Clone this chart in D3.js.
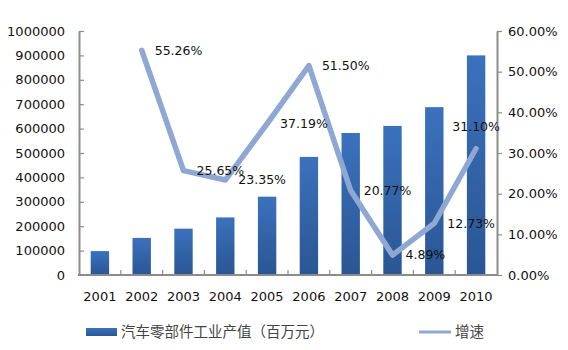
<!DOCTYPE html>
<html><head><meta charset="utf-8">
<script src="https://cdn.jsdelivr.net/npm/d3@7/dist/d3.min.js"></script>
<style>body{margin:0;background:#fff}svg{display:block}</style>
</head><body>
<script>
const years = ["2001","2002","2003","2004","2005","2006","2007","2008","2009","2010"];
const outputValues = [98000,152000,190000,236000,321000,484000,582000,611000,688000,900000];
const growthYears = ["2002","2003","2004","2005","2006","2007","2008","2009","2010"];
const growthRates = [55.26,25.65,23.35,37.19,51.50,20.77,4.89,12.73,31.10];
const leftTicks = [0,100000,200000,300000,400000,500000,600000,700000,800000,900000,1000000];
const rightTicks = [0,10,20,30,40,50,60];
const barLabel = "汽车零部件工业产值（百万元）";
const lineLabel = "增速";

const W=568,H=350;
const m={left:79,right:71,top:31,bottom:75};
const svg=d3.select("body").append("svg").attr("width",W).attr("height",H);
const defs=svg.append("defs");
["barGrad","legGrad"].forEach(id=>{
  const g=defs.append("linearGradient").attr("id",id).attr("x1",0).attr("y1",0).attr("x2",0).attr("y2",1);
  g.append("stop").attr("offset","0%").attr("stop-color","#3b71bd");
  g.append("stop").attr("offset","100%").attr("stop-color","#2a5693");
});

const x=d3.scaleBand().domain(years).range([m.left,W-m.right]).paddingInner(0.56).paddingOuter(0.28);
const yL=d3.scaleLinear().domain([0,1000000]).range([H-m.bottom,m.top]);
const yR=d3.scaleLinear().domain([0,60]).range([H-m.bottom,m.top]);
const cx=d=>x(d)+x.bandwidth()/2;

// bars
svg.append("g").selectAll("rect").data(years).join("rect")
 .attr("x",d=>x(d)).attr("width",x.bandwidth())
 .attr("y",(d,i)=>yL(outputValues[i])).attr("height",(d,i)=>yL(0)-yL(outputValues[i]))
 .attr("fill","url(#barGrad)");

const font="'DejaVu Sans', Verdana, sans-serif";
// left axis
const la=svg.append("g").attr("transform",`translate(${m.left},0)`)
 .call(d3.axisLeft(yL).tickValues(leftTicks).tickFormat(d3.format("d")).tickSizeInner(-5).tickSizeOuter(0).tickPadding(14));
la.select(".domain").attr("stroke","#8c8c8c").attr("stroke-width",2);
la.selectAll(".tick line").attr("stroke","#8c8c8c").attr("stroke-width",1.2);
la.selectAll("text").attr("font-family",font).attr("font-size",13).attr("fill","#111");
// right axis
const ra=svg.append("g").attr("transform",`translate(${W-m.right},0)`)
 .call(d3.axisRight(yR).tickValues(rightTicks).tickFormat(d=>d.toFixed(2)+"%").tickSizeInner(5).tickSizeOuter(0).tickPadding(6));
ra.select(".domain").attr("stroke","#8c8c8c").attr("stroke-width",2);
ra.selectAll(".tick line").attr("stroke","#8c8c8c").attr("stroke-width",1.2);
ra.selectAll("text").attr("font-family",font).attr("font-size",13).attr("fill","#111");
// x axis
const xa=svg.append("g").attr("transform",`translate(0,${H-m.bottom})`)
 .call(d3.axisBottom(x).tickSize(0).tickPadding(17));
xa.select(".domain").attr("stroke","#8c8c8c").attr("stroke-width",2).attr("d",`M${m.left-1},0H${W-m.right+1}`);
xa.selectAll("text").attr("font-family",font).attr("font-size",13).attr("fill","#111");
const step=x.step();
svg.append("g").selectAll("line").data(years.slice(1)).join("line")
 .attr("x1",d=>x(d)-x.paddingInner()*step/2).attr("x2",d=>x(d)-x.paddingInner()*step/2)
 .attr("y1",H-m.bottom).attr("y2",H-m.bottom-5).attr("stroke","#8c8c8c").attr("stroke-width",1.2);

// line
const line=d3.line().x(d=>cx(d[0])).y(d=>yR(d[1]));
const pts=growthYears.map((d,i)=>[d,growthRates[i]]);
svg.append("path").datum(pts).attr("d",line).attr("fill","none")
 .attr("stroke","#8fa7d3").attr("stroke-width",5.5).attr("stroke-linejoin","round").attr("stroke-linecap","round");
const last=pts.length-1;
svg.append("g").selectAll("text").data(pts).join("text")
 .attr("x",(d,i)=>i===last?cx(d[0]):cx(d[0])+13)
 .attr("y",(d,i)=>i===last?yR(d[1])-22:yR(d[1])).attr("dy","0.35em")
 .attr("text-anchor",(d,i)=>i===last?"middle":"start")
 .attr("font-family",font).attr("font-size",12.5).attr("fill","#111")
 .text(d=>d[1].toFixed(2)+"%");

// legend
svg.append("rect").attr("x",86).attr("y",328).attr("width",31).attr("height",8).attr("fill","url(#legGrad)");
svg.append("text").attr("x",121).attr("y",332).attr("dy","0.35em").attr("font-family","'Noto Sans CJK SC', sans-serif")
 .attr("font-size",14.5).attr("fill","#444").text(barLabel);
svg.append("line").attr("x1",419).attr("x2",451).attr("y1",332).attr("y2",332).attr("stroke","#8fa7d3").attr("stroke-width",3);
svg.append("text").attr("x",455).attr("y",332).attr("dy","0.35em").attr("font-family","'Noto Sans CJK SC', sans-serif")
 .attr("font-size",14.5).attr("fill","#444").text(lineLabel);
</script>
</body></html>
